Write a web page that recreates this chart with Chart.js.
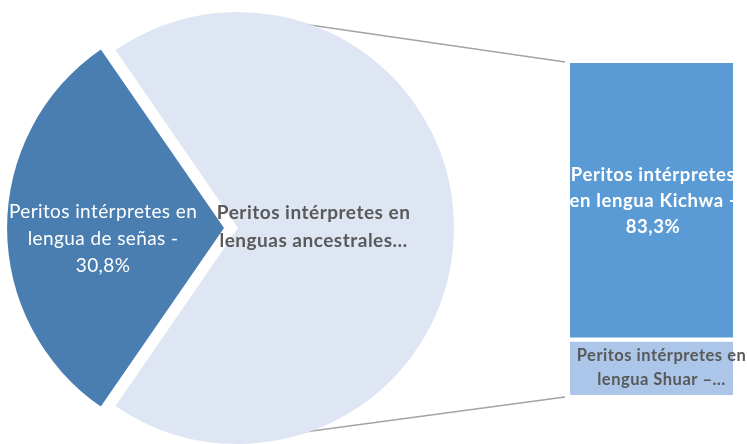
<!DOCTYPE html>
<html>
<head>
<meta charset="utf-8">
<script src="https://cdn.jsdelivr.net/npm/chart.js@4.4.1/dist/chart.umd.min.js"></script>
<style>
  html, body { margin: 0; padding: 0; background: #fff; }
  #wrap { position: relative; width: 747px; height: 444px; overflow: hidden; }
  #wrap canvas { position: absolute; left: 0; top: 0; }
</style>
</head>
<body>
<div id="wrap">
  <canvas id="barChart" width="747" height="444"></canvas>
  <canvas id="pieChart" width="747" height="444"></canvas>
</div>
<script>
// pie: sign language vs ancestral languages
var pieLabels = [
  ['Peritos intérpretes en', 'lengua de señas -', '30,8%'],
  ['Peritos intérpretes en', 'lenguas ancestrales…']
];
var pieValues = [30.8, 69.2];

// bar: split of ancestral languages (bottom to top)
var barLabels = [
  ['Peritos intérpretes en', 'lengua Shuar –…'],
  ['Peritos intérpretes', 'en lengua Kichwa -', '83,3%']
];
var barValues = [16.7, 83.3];

var FONT = 'Lato, "Open Sans", sans-serif';

function drawLines(ctx, lines, x, y, lineH) {
  var top = y - (lines.length - 1) * lineH / 2;
  for (var i = 0; i < lines.length; i++) {
    ctx.fillText(lines[i], x, top + i * lineH);
  }
}

var pieLabelPlugin = {
  id: 'pieLabels',
  afterDatasetsDraw: function (chart) {
    var ctx = chart.ctx;
    var arcs = chart.getDatasetMeta(0).data;
    var style = [
      { frac: 0.56, dy: 11, color: '#ffffff', font: '19px ' + FONT, lh: 27, ls: '0.4px' },
      { frac: 0.35, dy: -1, color: '#595959', font: 'bold 19px ' + FONT, lh: 28, ls: '0.5px' }
    ];
    ctx.save();
    ctx.textAlign = 'center';
    ctx.textBaseline = 'middle';
    for (var i = 0; i < arcs.length; i++) {
      var a = arcs[i];
      var s = style[i];
      var mid = (a.startAngle + a.endAngle) / 2;
      var shift = (a.options.offset || 0) / 4;
      var d = shift + s.frac * a.outerRadius;
      ctx.fillStyle = s.color;
      ctx.font = s.font;
      ctx.letterSpacing = s.ls;
      drawLines(ctx, pieLabels[i], a.x + Math.cos(mid) * d, a.y + Math.sin(mid) * d + s.dy, s.lh);
    }
    ctx.restore();
  }
};

var pieChart = new Chart(document.getElementById('pieChart'), {
  type: 'pie',
  data: {
    labels: ['señas', 'ancestrales'],
    datasets: [{
      data: pieValues,
      backgroundColor: ['#4a7eb0', '#dfe6f3'],
      borderWidth: 0,
      offset: [56, 0]
    }]
  },
  options: {
    responsive: false,
    animation: false,
    radius: 216,
    rotation: 270 - pieValues[0] * 3.6 / 2,
    layout: { padding: { left: 0, right: 271, top: 12, bottom: 0 } },
    plugins: { legend: { display: false }, tooltip: { enabled: false } }
  },
  plugins: [pieLabelPlugin]
});

var connectorPlugin = {
  id: 'connectors',
  beforeDatasetsDraw: function (chart) {
    var arc = pieChart.getDatasetMeta(0).data[1];
    var top = chart.getDatasetMeta(1).data[0];
    var bottom = chart.getDatasetMeta(0).data[0];
    var left = top.x - top.width / 2;
    var ang = 77 * Math.PI / 180;
    var r = arc.outerRadius - 4;
    var ctx = chart.ctx;
    ctx.save();
    ctx.strokeStyle = '#a3a3a3';
    ctx.lineWidth = 1.6;
    ctx.beginPath();
    ctx.moveTo(arc.x + Math.cos(ang) * r, arc.y - Math.sin(ang) * r);
    ctx.lineTo(left - 5, top.y - 1);
    ctx.moveTo(arc.x + Math.cos(ang) * r, arc.y + Math.sin(ang) * r);
    ctx.lineTo(left - 5, bottom.base + 2);
    ctx.stroke();
    ctx.restore();
  }
};

var barLabelPlugin = {
  id: 'barLabels',
  afterDatasetsDraw: function (chart) {
    var ctx = chart.ctx;
    var style = [
      { dx: 10, color: '#595959', font: 'bold 16.5px ' + FONT, lh: 24, ls: '0.5px' },
      { dx: 1.5, color: '#ffffff', font: 'bold 18.5px ' + FONT, lh: 26, ls: '0.6px' }
    ];
    ctx.save();
    ctx.textAlign = 'center';
    ctx.textBaseline = 'middle';
    for (var i = 0; i < barValues.length; i++) {
      var el = chart.getDatasetMeta(i).data[0];
      var s = style[i];
      ctx.fillStyle = s.color;
      ctx.font = s.font;
      ctx.letterSpacing = s.ls;
      drawLines(ctx, barLabels[i], el.x + s.dx, (el.y + el.base) / 2, s.lh);
    }
    ctx.restore();
  }
};

new Chart(document.getElementById('barChart'), {
  type: 'bar',
  data: {
    labels: [''],
    datasets: [
      {
        data: [barValues[0]],
        backgroundColor: '#abc6e8',
        borderColor: '#ffffff',
        borderWidth: { top: 2.5, bottom: 0, left: 0, right: 0 },
        borderSkipped: false
      },
      {
        data: [barValues[1]],
        backgroundColor: '#5b9bd5',
        borderColor: '#ffffff',
        borderWidth: { top: 0, bottom: 2.5, left: 0, right: 0 },
        borderSkipped: false
      }
    ]
  },
  options: {
    responsive: false,
    animation: false,
    layout: { padding: { left: 570, right: 14, top: 63, bottom: 49 } },
    datasets: { bar: { categoryPercentage: 1, barPercentage: 1 } },
    scales: {
      x: { stacked: true, display: false },
      y: { stacked: true, display: false, min: 0, max: 100 }
    },
    plugins: { legend: { display: false }, tooltip: { enabled: false } }
  },
  plugins: [connectorPlugin, barLabelPlugin]
});
</script>
</body>
</html>
